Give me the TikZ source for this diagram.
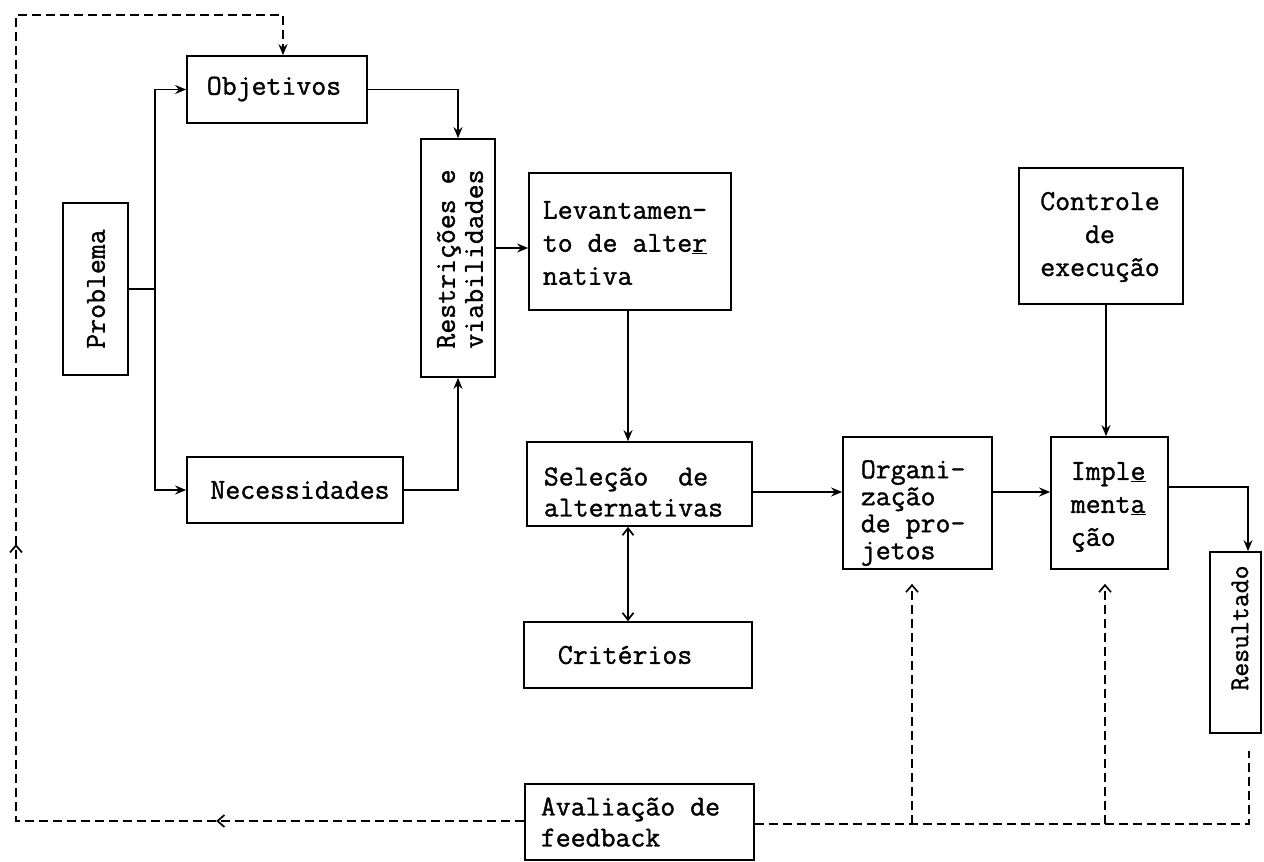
\documentclass[tikz,border=0pt]{standalone}
\usepackage{fontspec}
\setmonofont{Latin Modern Mono}[RawFeature={embolden=1.2}]
\usetikzlibrary{arrows.meta,decorations.markings}

\begin{document}
\begin{tikzpicture}[x=1pt,y=-1pt,
  every path/.style={line width=1.7pt},
  box/.style={draw,line width=1.7pt,inner sep=0pt},
  txt/.style={inner sep=0pt,font=\ttfamily\fontsize{29pt}{33pt}\selectfont},
  arr/.style={-{Stealth[length=11pt,width=9pt]}},
  both/.style={{Straight Barb[length=7pt,width=11pt]}-{Straight Barb[length=7pt,width=11pt]}},
  fb/.style={dash pattern=on 9pt off 5pt},
  fbarr/.style={fb,-{Straight Barb[length=7pt,width=12pt]}},
  midarrows/.style={postaction={decorate},
    decoration={markings,
      mark=at position 308pt with {\arrow{Straight Barb[length=7pt,width=12pt]}},
      mark=at position 785pt with {\arrow{Straight Barb[length=7pt,width=12pt]}}}}]
\useasboundingbox (0,0) rectangle (1264,862);

% boxes
\node[box,minimum width=180pt,minimum height=67pt] (obj) at (277,89.5) {};
\node[box,minimum width=65pt,minimum height=172pt] (prob) at (95.5,289) {};
\node[box,minimum width=74pt,minimum height=238pt] (restr) at (458,258) {};
\node[box,minimum width=216pt,minimum height=66pt] (nec) at (295,490) {};
\node[box,minimum width=202pt,minimum height=137pt] (lev) at (630,241.5) {};
\node[box,minimum width=225pt,minimum height=84pt] (sel) at (639.5,484) {};
\node[box,minimum width=228pt,minimum height=66pt] (crit) at (638,655) {};
\node[box,minimum width=149pt,minimum height=132pt] (org) at (917.5,503) {};
\node[box,minimum width=117pt,minimum height=132pt] (impl) at (1109.5,503) {};
\node[box,minimum width=164pt,minimum height=136pt] (ctrl) at (1101,236) {};
\node[box,minimum width=51pt,minimum height=181pt] (res) at (1235.5,642.5) {};
\node[box,minimum width=229pt,minimum height=76pt] (aval) at (639.5,822) {};

% labels
\node[txt] (objT) at (274,89) {Objetivos};
\node[txt,rotate=90] (probT) at (96,289) {Problema};
\node[txt,rotate=90,align=left,font=\ttfamily\fontsize{29pt}{28pt}\selectfont] (restrT) at (460,259) {Restrições e\\viabilidades};
\node[txt] (necT) at (300,490) {Necessidades};
\node[txt,anchor=west,align=left] (levT) at (542,243) {Levantamen-\\to de alte\underline{r}\\nativa};
\node[txt,anchor=west,align=left,font=\ttfamily\fontsize{29pt}{31pt}\selectfont] (selT) at (543,492) {Seleção\ \ de\\alternativas};
\node[txt,anchor=west] (critT) at (557,655) {Critérios};
\node[txt,anchor=west,align=left,font=\ttfamily\fontsize{29pt}{27pt}\selectfont] (orgT) at (860,513) {Organi-\\zação\\de pro-\\jetos};
\node[txt,anchor=west,align=left] (implT) at (1070,507) {Impl\underline{e}\\ment\underline{a}\\ção};
\node[txt,align=center] (ctrlT) at (1100,237) {Controle\\de\\execução};
\node[txt,rotate=90,font=\ttfamily\fontsize{27pt}{28pt}\selectfont] (resT) at (1240,628) {Resultado};
\node[txt,anchor=west,align=left,font=\ttfamily\fontsize{29pt}{31pt}\selectfont] (avalT) at (540,822) {Avaliação de\\feedback};

% routing points
\coordinate (jn) at (155,289);
\coordinate (r1) at (0,248);
\coordinate (c1) at (628,0);
\coordinate (r2) at (0,492);
\coordinate (c2) at (1106,0);
\coordinate (r3) at (0,487);
\coordinate (c3) at (1248,0);
\coordinate (fl) at (16,821);
\coordinate (ft) at (16,15);
\coordinate (c4) at (283,15);
\coordinate (fr) at (1249,824);
\coordinate (c5) at (912,824);
\coordinate (c6) at (1105,824);

% main flow
\draw (prob.east |- jn) -- (jn);
\draw[arr] (jn) |- (obj.west);
\draw[arr] (jn) |- (nec.west);
\draw[arr] (obj.east) -| (restr.north);
\draw[arr] (nec.east) -| (restr.south);
\draw[arr] (restr.east |- r1) -- (lev.west |- r1);
\draw[arr] (lev.south -| c1) -- (sel.north -| c1);
\draw[both] (sel.south -| c1) -- (crit.north -| c1);
\draw[arr] (sel.east |- r2) -- (org.west |- r2);
\draw[arr] (org.east |- r2) -- (impl.west |- r2);
\draw[arr] (ctrl.south -| c2) -- (impl.north -| c2);
\draw[arr] (impl.east |- r3) -| (res.north -| c3);

% feedback loop
\draw[fb,midarrows,-{Stealth[length=11pt,width=9pt]}] (aval.west |- fl) -- (fl) -- (ft) -| (obj.north -| c4);
\draw[fb,shorten >=17pt] (aval.east |- fr) -- (fr) -- (res.south -| fr);
\draw[fbarr,shorten >=14pt] (c5) -- (org.south -| c5);
\draw[fbarr,shorten >=14pt] (c6) -- (impl.south -| c6);
\end{tikzpicture}
\end{document}
